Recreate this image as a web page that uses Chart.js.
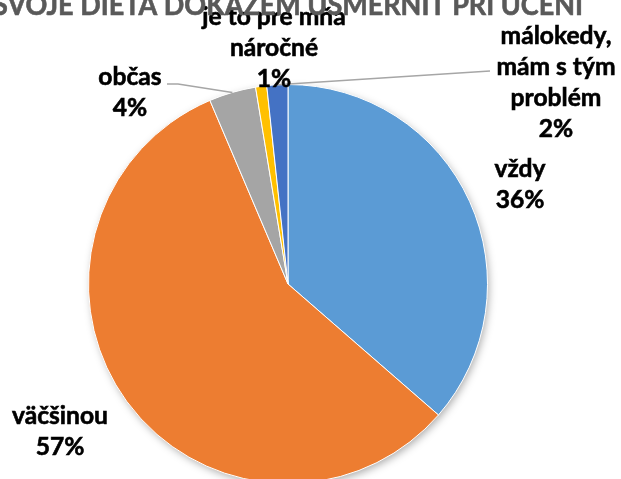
<!DOCTYPE html>
<html lang="sk">
<head>
<meta charset="UTF-8">
<title>Svoje dieťa dokážem usmerniť pri učení</title>
<script src="https://cdn.jsdelivr.net/npm/chart.js"></script>
<style>
  html, body { margin: 0; padding: 0; overflow: hidden; background: #fff; }
  #wrap { width: 621px; height: 479px; overflow: hidden; }
</style>
</head>
<body>
<div id="wrap"><canvas id="myChart" width="621" height="500"></canvas></div>
<script>
// data
var categories = [['vždy'], ['väčšinou'], ['občas'], ['je to pre mňa', 'náročné'], ['málokedy,', 'mám s tým', 'problém']];
var shares = [36.4, 57.2, 3.8, 0.9, 1.7];
var colors = ['#5B9BD5', '#ED7D31', '#A5A5A5', '#FFC000', '#4472C4'];
var chartTitle = 'SVOJE DIEŤA DOKÁŽEM USMERNIŤ PRI UČENÍ';

// label placement (center x, first baseline) and leader line starts
var labelPos = [[520, 177], [60, 424], [130, 85], [274, 25], [556, 44]];
var leaders = { 2: [[167, 84], [178, 84]], 4: [[490, 71]] };
var lineH = 31;
var labelFont = 'bold 25px Lato';

// fit text width horizontally like the original (stretched export)
function drawFit(ctx, text, x, y, sx) {
    ctx.save();
    ctx.translate(x, y);
    ctx.scale(sx, 1);
    ctx.strokeText(text, 0, 0);
    ctx.fillText(text, 0, 0);
    ctx.restore();
}

var pieShadow = {
    id: 'pieShadow',
    beforeDatasetsDraw: function (chart) {
        var arc = chart.getDatasetMeta(0).data[0];
        var ctx = chart.ctx;
        ctx.save();
        ctx.shadowColor = 'rgba(0,0,0,0.35)';
        ctx.shadowBlur = 9;
        ctx.shadowOffsetX = 2;
        ctx.shadowOffsetY = 3;
        ctx.fillStyle = '#fff';
        ctx.beginPath();
        ctx.arc(arc.x, arc.y, arc.outerRadius - 1, 0, Math.PI * 2);
        ctx.fill();
        ctx.restore();
    }
};

var pieLabels = {
    id: 'pieLabels',
    afterDatasetsDraw: function (chart) {
        var ctx = chart.ctx;
        var arcs = chart.getDatasetMeta(0).data;

        // leader lines
        ctx.save();
        ctx.strokeStyle = '#A6A6A6';
        ctx.lineWidth = 1.5;
        Object.keys(leaders).forEach(function (k) {
            var a = arcs[k];
            var mid = (a.startAngle + a.endAngle) / 2;
            var pts = leaders[k];
            ctx.beginPath();
            ctx.moveTo(pts[0][0], pts[0][1]);
            for (var i = 1; i < pts.length; i++) ctx.lineTo(pts[i][0], pts[i][1]);
            ctx.lineTo(a.x + Math.cos(mid) * a.outerRadius, a.y + Math.sin(mid) * a.outerRadius);
            ctx.stroke();
        });
        ctx.restore();

        ctx.save();
        ctx.font = labelFont;
        ctx.fillStyle = '#000';
        ctx.strokeStyle = '#000';
        ctx.lineWidth = 0.6;
        ctx.textAlign = 'center';
        ctx.textBaseline = 'alphabetic';
        var sx = 96 / ctx.measureText('väčšinou').width;
        categories.forEach(function (lines, i) {
            var p = labelPos[i];
            var all = lines.concat([Math.round(shares[i]) + '%']);
            all.forEach(function (t, j) {
                drawFit(ctx, t, p[0], p[1] + j * lineH, sx);
            });
        });

        // title, cut off at the top as in the original
        ctx.font = 'bold 28px Lato';
        ctx.fillStyle = '#595959';
        ctx.strokeStyle = '#595959';
        var tx = 590 / ctx.measureText(chartTitle).width;
        drawFit(ctx, chartTitle, 288, 15, tx);
        ctx.restore();
    }
};

var ctx = document.getElementById('myChart').getContext('2d');
var myChart = new Chart(ctx, {
    type: 'pie',
    data: {
        labels: categories,
        datasets: [{
            data: shares,
            backgroundColor: colors,
            borderColor: '#fff',
            borderWidth: 1
        }]
    },
    options: {
        responsive: false,
        animation: false,
        layout: { padding: { left: 88, right: 133, top: 84, bottom: 16 } },
        plugins: {
            legend: { display: false },
            tooltip: { enabled: false },
            title: { display: false }
        }
    },
    plugins: [pieShadow, pieLabels]
});
</script>
</body>
</html>
